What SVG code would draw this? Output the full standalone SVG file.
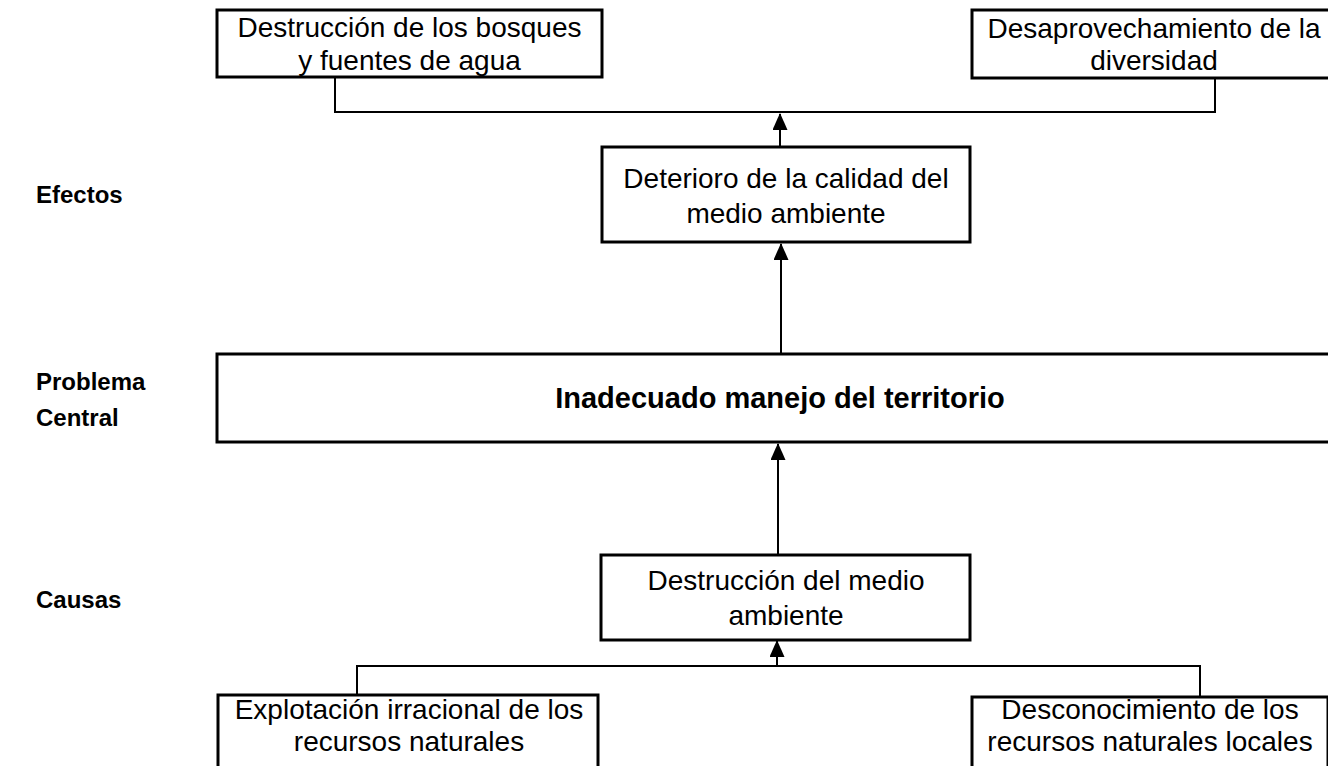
<svg xmlns="http://www.w3.org/2000/svg" width="1328" height="766" viewBox="0 0 1328 766">
<style>
.box{fill:#fff;stroke:#000;stroke-width:3}
.t{font-family:"Liberation Sans",Arial,sans-serif;font-size:28px;fill:#000;text-anchor:middle}
.b{font-family:"Liberation Sans",Arial,sans-serif;font-weight:bold;fill:#000}
.c{fill:none;stroke:#000;stroke-width:2}
</style>
<defs>
<marker id="ah" viewBox="0 0 17 15" refX="16" refY="7.5" markerWidth="17" markerHeight="15" markerUnits="userSpaceOnUse" orient="auto">
<path d="M0,0 L17,7.5 L0,15 z" fill="#000"/>
</marker>
</defs>
<rect width="1328" height="766" fill="#fff"/>
<g id="labels">
<text class="b" x="36" y="203" font-size="24">Efectos</text>
<text class="b" x="36" y="390" font-size="24">Problema</text>
<text class="b" x="36" y="426" font-size="24">Central</text>
<text class="b" x="36" y="608" font-size="24">Causas</text>
</g>
<g id="connectors">
<path class="c" d="M335,77 V112 H1215 V78"/>
<path class="c" d="M780,147 V114" marker-end="url(#ah)"/>
<path class="c" d="M781,353 V244" marker-end="url(#ah)"/>
<path class="c" d="M778,555 V444" marker-end="url(#ah)"/>
<path class="c" d="M777,666 V641" marker-end="url(#ah)"/>
<path class="c" d="M357,695 V666 H1200 V697"/>
</g>
<g id="efecto1">
<rect class="box" x="217" y="10" width="385" height="67"/>
<text class="t" x="409.5" y="37">Destrucción de los bosques</text>
<text class="t" x="409.5" y="70">y fuentes de agua</text>
</g>
<g id="efecto2">
<rect class="box" x="972" y="10" width="364" height="68"/>
<text class="t" x="1154" y="38">Desaprovechamiento de la</text>
<text class="t" x="1154" y="70">diversidad</text>
</g>
<g id="efecto-central">
<rect class="box" x="602" y="147" width="368" height="95"/>
<text class="t" x="786" y="188">Deterioro de la calidad del</text>
<text class="t" x="786" y="223">medio ambiente</text>
</g>
<g id="problema">
<rect class="box" x="217" y="354" width="1126" height="88"/>
<text class="b" x="780" y="408" font-size="29" text-anchor="middle">Inadecuado manejo del territorio</text>
</g>
<g id="causa-central">
<rect class="box" x="601" y="555" width="369" height="85"/>
<text class="t" x="786" y="590">Destrucción del medio</text>
<text class="t" x="786" y="625">ambiente</text>
</g>
<g id="causa1">
<rect class="box" x="218" y="695" width="380" height="90"/>
<text class="t" x="409" y="719">Explotación irracional de los</text>
<text class="t" x="409" y="751">recursos naturales</text>
</g>
<g id="causa2">
<rect class="box" x="972" y="697" width="356" height="90"/>
<text class="t" x="1150" y="719">Desconocimiento de los</text>
<text class="t" x="1150" y="751">recursos naturales locales</text>
</g>
</svg>
